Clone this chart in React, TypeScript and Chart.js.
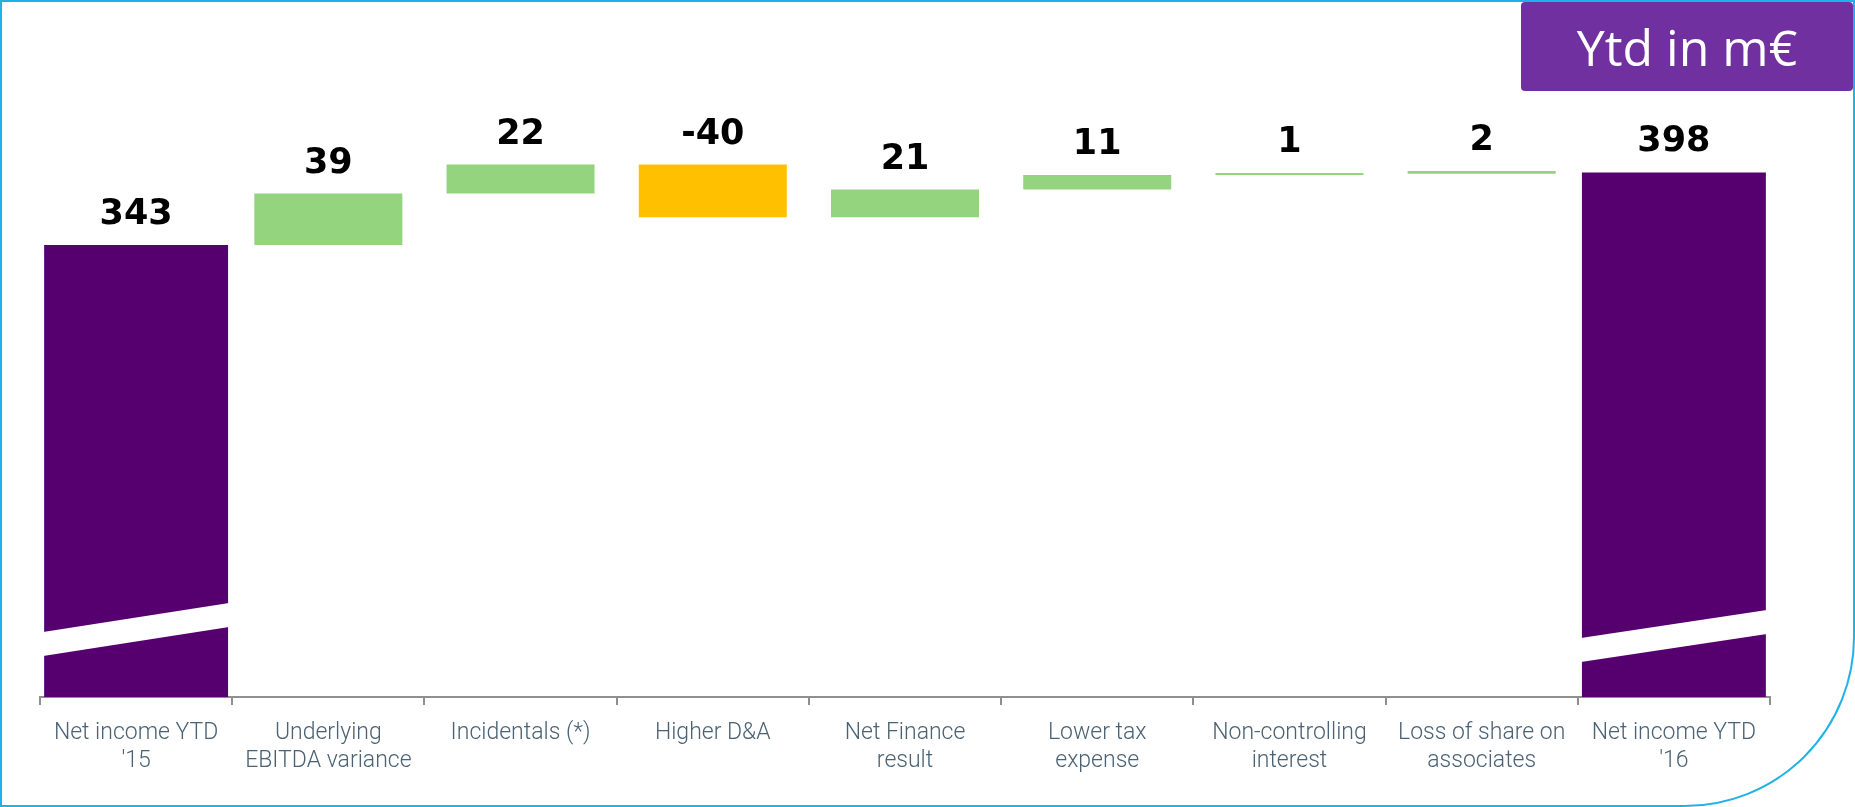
import React, { useEffect, useRef } from "react";
import { Chart, registerables } from "chart.js";

Chart.register(...registerables);

// ---- data ----
const categories: (string | string[])[] = [
  ["Net income YTD", "'15"],
  ["Underlying", "EBITDA variance"],
  "Incidentals (*)",
  "Higher D&A",
  ["Net Finance", "result"],
  ["Lower tax", "expense"],
  ["Non-controlling", "interest"],
  ["Loss of share on", "associates"],
  ["Net income YTD", "'16"],
];
const startValue = 343;
const changeValues = [39, 22, -40, 21, 11, 1, 2];
const endValue = 398;
const valueLabels = ["343", "39", "22", "-40", "21", "11", "1", "2", "398"];
const unitLabel = "Ytd in m€";

// ---- style ----
const W = 1855;
const H = 807;
const PURPLE = "#56006f";
const GREEN = "#95d47f";
const ORANGE = "#ffc000";
const AXIS = "#8f8f8f";
const LABEL = "#4a6274";
const FRAME = "#1fb2ea";
const BOX = "#7030a0";
// break decoration offsets (px above the bar base), left / right edge
const breakStyles = [
  { loL: 41, hiL: 65, loR: 70, hiR: 94 },
  { loL: 35, hiL: 59, loR: 63, hiR: 87 },
];

function buildTotals() {
  const arr: any[] = categories.map(() => null);
  arr[0] = [0, startValue];
  arr[categories.length - 1] = [0, endValue];
  return arr;
}
function buildChanges() {
  const arr: any[] = [null];
  let level = startValue;
  changeValues.forEach((d) => {
    arr.push([level, level + d]);
    level += d;
  });
  arr.push(null);
  return arr;
}

const valueLabelPlugin = {
  id: "valueLabels",
  afterDatasetsDraw(chart: any) {
    const ctx = chart.ctx;
    ctx.save();
    ctx.font = "bold 35px 'DejaVu Sans'";
    ctx.fillStyle = "#000";
    ctx.textAlign = "center";
    ctx.textBaseline = "alphabetic";
    categories.forEach((_, i) => {
      let el: any = null;
      chart.data.datasets.forEach((ds: any, di: number) => {
        if (ds.data[i] != null) el = chart.getDatasetMeta(di).data[i];
      });
      if (!el) return;
      const top = Math.min(el.y, el.base);
      ctx.fillText(valueLabels[i], el.x, top - 21);
    });
    ctx.restore();
  },
};

const breakPlugin = {
  id: "axisBreaks",
  afterDatasetsDraw(chart: any) {
    const ctx = chart.ctx;
    const meta = chart.getDatasetMeta(0);
    const idx = [0, categories.length - 1];
    ctx.save();
    ctx.fillStyle = "#ffffff";
    idx.forEach((i, k) => {
      const el: any = meta.data[i];
      if (!el) return;
      const s = breakStyles[k];
      const l = el.x - el.width / 2 - 1;
      const r = el.x + el.width / 2 + 1;
      const b = el.base;
      ctx.beginPath();
      ctx.moveTo(l, b - s.hiL);
      ctx.lineTo(r, b - s.hiR);
      ctx.lineTo(r, b - s.loR);
      ctx.lineTo(l, b - s.loL);
      ctx.closePath();
      ctx.fill();
    });
    ctx.restore();
  },
};

export default function App() {
  const ref = useRef<HTMLCanvasElement | null>(null);

  useEffect(() => {
    document.body.style.margin = "0";
    const canvas = ref.current;
    if (!canvas) return;
    const changes = buildChanges();
    const chart = new Chart(canvas, {
      type: "bar",
      data: {
        labels: categories as any,
        datasets: [
          {
            label: "Total",
            data: buildTotals(),
            backgroundColor: PURPLE,
            barPercentage: 0.957,
            categoryPercentage: 1,
            grouped: false,
            borderWidth: 0,
          } as any,
          {
            label: "Change",
            data: changes,
            backgroundColor: changes.map((v: any) =>
              v && v[1] < v[0] ? ORANGE : GREEN
            ),
            barPercentage: 0.77,
            categoryPercentage: 1,
            grouped: false,
            borderWidth: 0,
            minBarLength: 2,
          } as any,
        ],
      },
      options: {
        responsive: false,
        animation: false,
        devicePixelRatio: 1,
        layout: { padding: { left: 40, right: 85, top: 38, bottom: 0 } },
        plugins: {
          legend: { display: false },
          tooltip: { enabled: false },
          title: { display: false },
        },
        scales: {
          x: {
            offset: true,
            grid: {
              offset: true,
              drawOnChartArea: false,
              drawTicks: true,
              tickLength: 8,
              color: AXIS,
              lineWidth: 2,
            },
            border: { display: true, color: AXIS, width: 2 },
            ticks: {
              autoSkip: false,
              maxRotation: 0,
              minRotation: 0,
              padding: 14,
              color: LABEL,
              font: { family: "Roboto", weight: "300", size: 23, lineHeight: "28px" },
            },
            afterFit: (scale: any) => {
              scale.height = 110;
            },
          },
          y: {
            display: false,
            min: 0,
            max: 500,
          },
        },
      },
      plugins: [breakPlugin, valueLabelPlugin],
    });
    return () => chart.destroy();
  }, []);

  return (
    <div style={{ position: "relative", width: W, height: H, overflow: "hidden", background: "#fff" }}>
      <canvas
        ref={ref}
        width={W}
        height={H}
        style={{ position: "absolute", left: 0, top: 0, width: W, height: H }}
      />
      <div
        style={{
          position: "absolute",
          left: 0,
          top: 0,
          width: W,
          height: H,
          boxSizing: "border-box",
          border: `2px solid ${FRAME}`,
          borderBottomRightRadius: 170,
          pointerEvents: "none",
        }}
      />
      <div
        style={{
          position: "absolute",
          left: 1521,
          top: 2,
          width: 332,
          height: 89,
          background: BOX,
          borderRadius: 4,
          color: "#fff",
          fontFamily: "'Open Sans', sans-serif",
          fontSize: 50,
          display: "flex",
          alignItems: "center",
          justifyContent: "center",
          lineHeight: 1,
        }}
      >
        {unitLabel}
      </div>
    </div>
  );
}
